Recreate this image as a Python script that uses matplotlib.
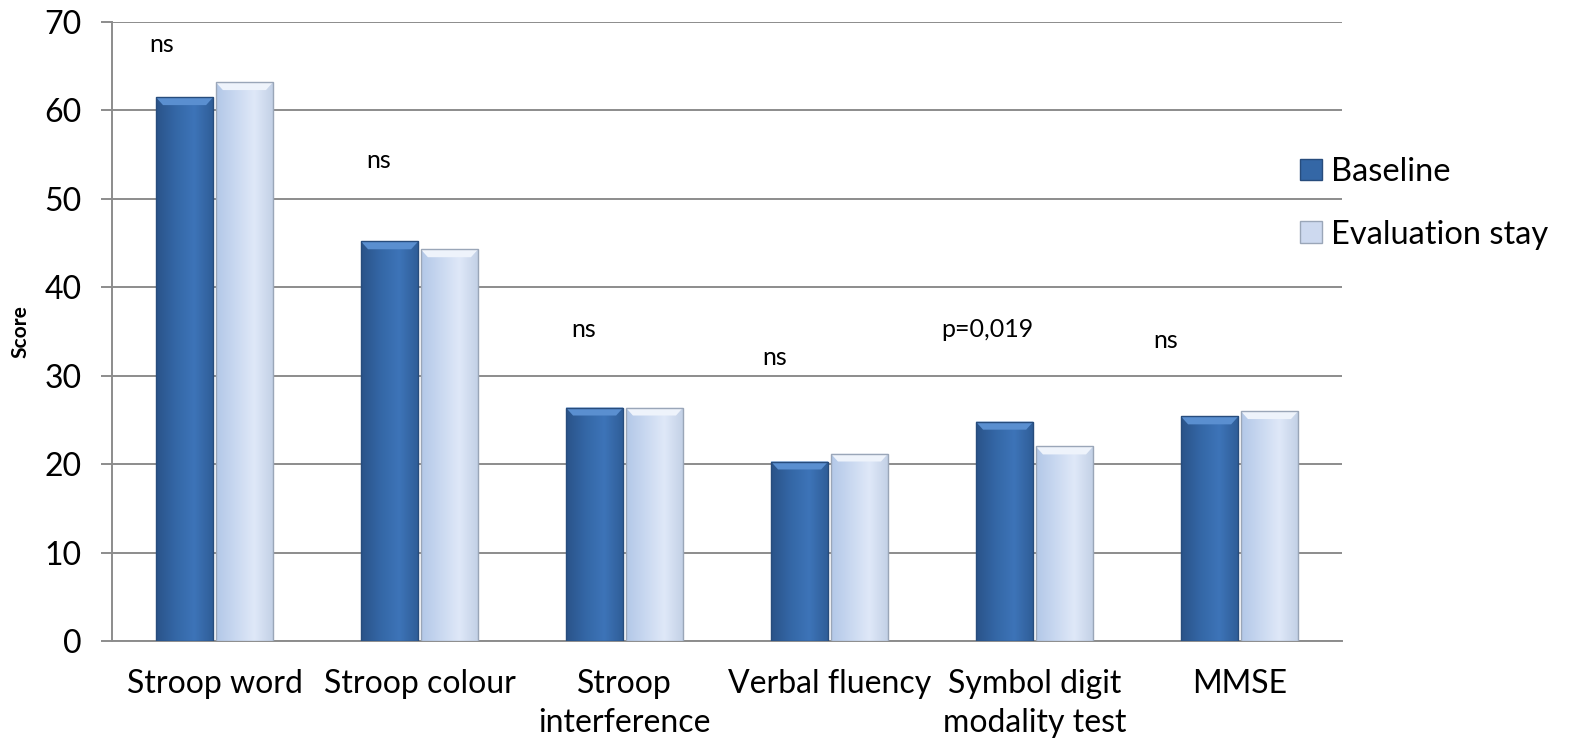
import numpy as np
import matplotlib
matplotlib.use("Agg")
import matplotlib.pyplot as plt
from matplotlib.patches import Polygon, Patch
from matplotlib.colors import LinearSegmentedColormap

plt.rcParams['font.family'] = ['Lato', 'DejaVu Sans']

categories = ["Stroop word", "Stroop colour", "Stroop\ninterference",
              "Verbal fluency", "Symbol digit\nmodality test", "MMSE"]
baseline = [61.5, 45.2, 26.4, 20.3, 24.8, 25.4]
evaluation = [63.2, 44.3, 26.4, 21.2, 22.0, 26.0]
sig_labels = ["ns", "ns", "ns", "ns", "p=0,019", "ns"]

# where the significance notes sit (x offset from group centre, y in score units)
sig_dx = [-0.26, -0.20, -0.20, -0.27, -0.23, -0.36]
sig_y = [67.4, 54.3, 35.2, 32.1, 35.2, 34.0]

dark_cmap = LinearSegmentedColormap.from_list("dark", ["#2a5389", "#3467a6", "#3d74b8", "#2f5d97"])
light_cmap = LinearSegmentedColormap.from_list("light", ["#b3c8e8", "#c9d8f0", "#dfe8f8", "#c2d0e6"])

fig = plt.figure(figsize=(15.75, 7.5), dpi=100)
ax = fig.add_axes([0.0711, 0.1453, 0.7810, 0.8254])

x = np.arange(len(categories))
w = 0.28
off = 0.146
grid_col = "#8c8c8c"


def shade_bars(bars, cmap, top_col, edge_col):
    grad = np.linspace(0, 1, 64).reshape(1, -1)
    for b in bars:
        x0, y0 = b.get_x(), b.get_y()
        x1, y1 = x0 + b.get_width(), y0 + b.get_height()
        im = ax.imshow(grad, cmap=cmap, aspect="auto", extent=(x0, x1, y0, y1),
                       zorder=3, interpolation="bicubic")
        im.set_clip_path(b)
        # bevelled top edge
        dx, dy = 0.035, 0.9
        ax.add_patch(Polygon([(x0, y1), (x1, y1), (x1 - dx, y1 - dy), (x0 + dx, y1 - dy)],
                             closed=True, facecolor=top_col, edgecolor="none", zorder=4))
        ax.add_patch(Polygon([(x0, y1), (x1, y1), (x1, y0), (x0, y0)], closed=True,
                             facecolor="none", edgecolor=edge_col, lw=1.0, zorder=5))


b1 = ax.bar(x - off, baseline, w, color="none", zorder=2)
b2 = ax.bar(x + off, evaluation, w, color="none", zorder=2)
shade_bars(b1, dark_cmap, "#5a8fd0", "#274c7c")
shade_bars(b2, light_cmap, "#eef3fb", "#9aa6b8")

for i, (lab, dx, yy) in enumerate(zip(sig_labels, sig_dx, sig_y)):
    ax.text(i + dx, yy, lab, ha="center", va="center", fontsize=18)

ax.set_xlim(-0.5, len(categories) - 0.5)
ax.set_ylim(0, 70)
ax.set_yticks(np.arange(0, 71, 10))
ax.yaxis.grid(True, color=grid_col, lw=1.4, zorder=0)
ax.set_axisbelow(True)
ax.set_xticks(x)
ax.set_xticklabels(categories, fontsize=23, linespacing=1.4)
ax.tick_params(axis="x", length=0, pad=20)
ax.tick_params(axis="y", length=8, width=1.4, color=grid_col, labelsize=23, pad=14)
for s in ["top", "right"]:
    ax.spines[s].set_visible(False)
for s in ["left", "bottom"]:
    ax.spines[s].set_color(grid_col)
    ax.spines[s].set_linewidth(1.4)
ax.set_ylabel("Score", fontsize=15, fontweight="bold", labelpad=10)

handles = [Patch(facecolor="#3467a6", edgecolor="#274c7c"),
           Patch(facecolor="#cdd9ef", edgecolor="#9aa6b8")]
fig.legend(handles, ["Baseline", "Evaluation stay"], loc="upper left",
           bbox_to_anchor=(0.807, 0.83), frameon=False, fontsize=23.5,
           handlelength=0.65, handleheight=0.65, handletextpad=0.3, labelspacing=1.0)

fig.savefig("out.png", dpi=100)
